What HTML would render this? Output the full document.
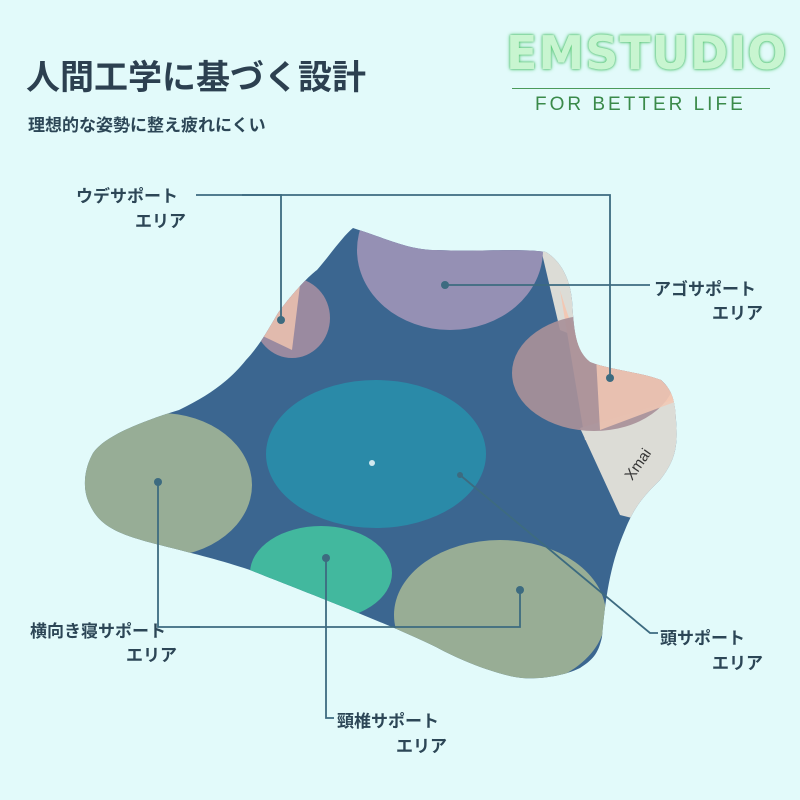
<!DOCTYPE html><html><head><meta charset="utf-8"><style>
body{margin:0;width:800px;height:800px;background:#e2fafa;overflow:hidden;position:relative;font-family:"Liberation Sans","Noto Sans CJK JP",sans-serif;color:#2c4656}
.t{position:absolute;white-space:nowrap}
</style></head><body>
<div class="t" style="left:26px;top:50px;font-size:34px;font-weight:bold;color:#2c4050">人間工学に基づく設計</div>
<div class="t" style="left:28px;top:111px;font-size:17px;font-weight:bold">理想的な姿勢に整え疲れにくい</div>
<div class="t" style="left:506px;top:26px;font-size:46px;font-weight:900;color:#c8f5d0;letter-spacing:1px;text-shadow:0 0 4px #5fd07a,0 0 2px #3aa860;font-family:'DejaVu Sans',sans-serif">EMSTUDIO</div>
<div style="position:absolute;left:512px;top:88px;width:258px;height:1px;background:#4a9a5a"></div>
<div class="t" style="left:535px;top:94px;font-size:19px;color:#3a8a4a;letter-spacing:3px">FOR BETTER LIFE</div>
<svg width="800" height="800" style="position:absolute;left:0;top:0">
<defs><clipPath id="c"><path d="M353,228 C390,240 410,250 436,250 C480,252 520,248 546,252 C562,262 570,280 572,300 C574,330 575,350 590,362 C610,370 640,372 661,380 C672,390 675,400 676,420 C678,445 676,460 660,480 C645,495 635,505 625,530 C612,560 606,590 602,637 C598,655 592,660 580,668 C560,678 530,680 515,677 C490,672 460,660 436,647 C380,620 300,590 250,570 C220,560 199,555 160,545 C120,535 100,527 90,505 C82,490 84,470 92,455 C100,440 130,425 179,410 C210,395 230,380 246,360 C260,345 268,330 278,313 C295,290 310,275 317,270 C330,255 343,236 353,228 Z"/></clipPath></defs>
<g clip-path="url(#c)">
<rect x="0" y="200" width="800" height="520" fill="#3b6690"/>
<path d="M540,245 L580,245 L585,340 L560,330 Z" fill="#dcdcd6"/>
<path d="M560,290 C575,340 585,360 610,368 L700,375 L700,410 L585,440 Z" fill="#f2c8b4"/>
<path d="M580,428 L700,392 L700,470 L640,520 L620,515 Z" fill="#dcdcd6"/>
<ellipse cx="450" cy="250" rx="93" ry="80" fill="#9590b4"/>
<ellipse cx="292" cy="318" rx="38" ry="40" fill="#9a8aa0"/>
<path d="M250,330 C265,300 280,290 300,285 L292,350 Z" fill="#e9bfae" opacity="0.9"/>
<ellipse cx="594" cy="373" rx="82" ry="58" fill="#a89099" opacity="0.92"/>
<path d="M594,320 C620,345 640,368 661,380 L680,400 L600,430 Z" fill="#f2c8b4" opacity="0.85"/>
<ellipse cx="376" cy="454" rx="110" ry="74" fill="#2a8aa8"/>
<ellipse cx="160" cy="485" rx="92" ry="72" fill="#97ad96"/>
<ellipse cx="321" cy="573" rx="71" ry="47" fill="#42b89e"/>
<ellipse cx="500" cy="615" rx="106" ry="75" fill="#98ad95"/>
</g>
<circle cx="372" cy="463" r="3" fill="#d0e8ef"/>
<text x="618" y="478" font-size="15" fill="#333" transform="rotate(-55 628 466)" font-family="Liberation Sans">Xmai</text>
<g stroke="#3d6b80" stroke-width="1.8" fill="none">
<path d="M196,195 H281 V320"/>
<path d="M242,195 H610 V378"/>
<path d="M445,285 H650"/>
<path d="M460,475 L650,633 H658"/>
<path d="M158,482 V627 H520 V590"/>
<path d="M190,627 H200"/>
<path d="M326,558 V718 H334"/>
</g>
<g fill="#3d6b80"><circle cx="281" cy="320" r="4"/><circle cx="610" cy="378" r="4"/><circle cx="445" cy="285" r="4"/><circle cx="460" cy="475" r="3"/><circle cx="158" cy="482" r="4"/><circle cx="520" cy="590" r="4"/><circle cx="326" cy="558" r="4"/></g>
</svg>
<div class="t" style="left:76px;top:182px;font-size:17px;font-weight:bold">ウデサポート</div>
<div class="t" style="left:135px;top:207px;font-size:17px;font-weight:bold">エリア</div>
<div class="t" style="left:654px;top:275px;font-size:17px;font-weight:bold">アゴサポート</div>
<div class="t" style="left:712px;top:299px;font-size:17px;font-weight:bold">エリア</div>
<div class="t" style="left:660px;top:624px;font-size:17px;font-weight:bold">頭サポート</div>
<div class="t" style="left:712px;top:649px;font-size:17px;font-weight:bold">エリア</div>
<div class="t" style="left:30px;top:617px;font-size:17px;font-weight:bold">横向き寝サポート</div>
<div class="t" style="left:126px;top:641px;font-size:17px;font-weight:bold">エリア</div>
<div class="t" style="left:337px;top:707px;font-size:17px;font-weight:bold">頸椎サポート</div>
<div class="t" style="left:396px;top:732px;font-size:17px;font-weight:bold">エリア</div>
</body></html>
